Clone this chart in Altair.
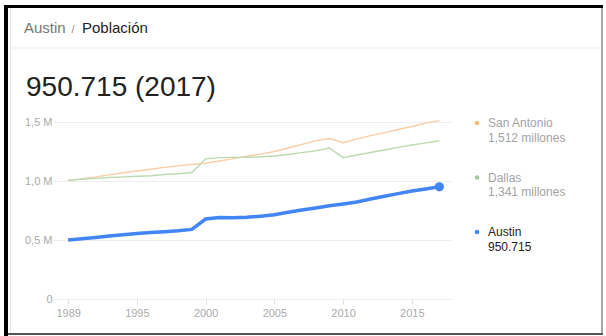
import altair as alt
import pandas as pd

# ---------------- data ----------------
years = list(range(1990, 2018))
austin = [0.500, 0.511, 0.522, 0.534, 0.545, 0.556, 0.563, 0.570, 0.578, 0.590,
          0.678, 0.690, 0.688, 0.692, 0.702, 0.714, 0.735, 0.755, 0.772, 0.790,
          0.805, 0.822, 0.847, 0.870, 0.893, 0.915, 0.933, 0.9507]
san_antonio = [1.002, 1.018, 1.035, 1.052, 1.070, 1.085, 1.100, 1.115, 1.128, 1.140,
               1.150, 1.170, 1.190, 1.210, 1.228, 1.250, 1.280, 1.310, 1.340, 1.360,
               1.325, 1.355, 1.385, 1.410, 1.436, 1.462, 1.490, 1.512]
dallas = [1.007, 1.015, 1.022, 1.030, 1.035, 1.040, 1.045, 1.055, 1.062, 1.072,
          1.188, 1.198, 1.200, 1.200, 1.205, 1.212, 1.225, 1.240, 1.255, 1.280,
          1.198, 1.220, 1.242, 1.263, 1.285, 1.305, 1.323, 1.341]

tick_values = [1990, 1995, 2000, 2005, 2010, 2015]
tick_labels = ["1989", "1995", "2000", "2005", "2010", "2015"]
y_ticks = [0, 0.5, 1.0, 1.5]

legend_names = ["San Antonio", "Dallas", "Austin"]
legend_values = ["1,512 millones", "1,341 millones", "950.715"]

breadcrumb_city = "Austin"
breadcrumb_topic = "Población"
headline = "950.715 (2017)"

# ---------------- styling ----------------
FONT = "Liberation Sans"
line_colors = {"San Antonio": "#f9cda6", "Dallas": "#bcdab1", "Austin": "#4285f4"}
dot_colors = {"San Antonio": "#f5b978", "Dallas": "#a9cba1", "Austin": "#4285f4"}
text_colors = {"San Antonio": "#a3a3a3", "Dallas": "#a3a3a3", "Austin": "#222222"}

W, H = 399, 177
OX, OY = 53, 122  # plot origin on the page


def px(x):
    return x - OX


def py(y):
    return y - OY


one = pd.DataFrame({"a": [0]})

df = pd.DataFrame({
    "year": years * 3,
    "value": san_antonio + dallas + austin,
    "city": ["San Antonio"] * len(years) + ["Dallas"] * len(years) + ["Austin"] * len(years),
})

label_expr = " : ".join(
    f"datum.value == {v} ? '{l}'" for v, l in zip(tick_values, tick_labels)
) + " : ''"

x_enc = alt.X("year:Q",
              scale=alt.Scale(domain=[1988.9, 2017.92], nice=False, zero=False),
              axis=alt.Axis(values=tick_values, labelExpr=label_expr, grid=False,
                            domain=False, ticks=True, tickSize=5, tickColor="#e0e0e0",
                            labelColor="#aaaaaa", labelFontSize=11, labelFont=FONT,
                            labelPadding=3, title=None))
y_enc = alt.Y("value:Q",
              scale=alt.Scale(domain=[0, 1.5], nice=False),
              axis=alt.Axis(values=y_ticks,
                            labelExpr="datum.value == 0 ? '0' : replace(format(datum.value, '.1f'), '.', ',') + ' M'",
                            grid=True, gridColor="#eeeeee", domain=False, ticks=False,
                            labelColor="#aaaaaa", labelFontSize=11, labelFont=FONT,
                            labelPadding=1, title=None))

base = alt.Chart(df)

thin = base.transform_filter("datum.city != 'Austin'").mark_line(strokeWidth=1.4).encode(
    x=x_enc, y=y_enc,
    color=alt.Color("city:N", scale=alt.Scale(domain=list(line_colors), range=list(line_colors.values())), legend=None),
    detail="city:N",
)
thick = base.transform_filter("datum.city == 'Austin'").mark_line(strokeWidth=3.5, color=line_colors["Austin"]).encode(
    x="year:Q", y="value:Q")
end_dot = base.transform_filter("datum.city == 'Austin' && datum.year == 2017").mark_circle(
    size=85, opacity=1, color=line_colors["Austin"]).encode(x="year:Q", y="value:Q")

layers = [thin, thick, end_dot]

# legend
for i, (name, val) in enumerate(zip(legend_names, legend_values)):
    yc = 123 + i * 54.5
    ld = pd.DataFrame({"name": [name], "val": [val]})
    layers.append(alt.Chart(ld).mark_circle(size=22, opacity=1, color=dot_colors[name]).encode(
        x=alt.value(px(477)), y=alt.value(py(yc))))
    layers.append(alt.Chart(ld).mark_text(align="left", baseline="middle", font=FONT, fontSize=12,
                                          color=text_colors[name]).encode(
        x=alt.value(px(488)), y=alt.value(py(yc)), text="name:N"))
    layers.append(alt.Chart(ld).mark_text(align="left", baseline="middle", font=FONT, fontSize=12,
                                          color=text_colors[name]).encode(
        x=alt.value(px(488)), y=alt.value(py(yc + 14.5)), text="val:N"))

# header texts
hd = pd.DataFrame({"city": [breadcrumb_city], "topic": [breadcrumb_topic], "head": [headline]})
layers.append(alt.Chart(hd).mark_text(align="left", baseline="alphabetic", font=FONT, fontSize=15,
                                      color="#777777").encode(
    x=alt.value(px(24)), y=alt.value(py(33)), text="city:N"))
layers.append(alt.Chart(hd).mark_text(align="center", baseline="alphabetic", font=FONT, fontSize=11,
                                      color="#888888").encode(
    x=alt.value(px(73)), y=alt.value(py(33)), text=alt.value("/")))
layers.append(alt.Chart(hd).mark_text(align="left", baseline="alphabetic", font=FONT, fontSize=15,
                                      color="#222222").encode(
    x=alt.value(px(82)), y=alt.value(py(33)), text="topic:N"))
layers.append(alt.Chart(hd).mark_text(align="left", baseline="alphabetic", font=FONT, fontSize=28,
                                      color="#222222").encode(
    x=alt.value(px(26)), y=alt.value(py(96)), text="head:N"))

# card / frame decorations
def rule(x1, y1, x2, y2, color, width):
    return alt.Chart(one).mark_rule(color=color, strokeWidth=width).encode(
        x=alt.value(px(x1)), x2=alt.value(px(x2)), y=alt.value(py(y1)), y2=alt.value(py(y2)))

layers += [
    rule(10, 48, 601, 48, "#ebebeb", 1),      # header separator
    rule(10.5, 8, 10.5, 333, "#e6e6e6", 1),   # card left border
    rule(602, 5, 602, 334, "#8a8a8a", 1.5),   # right border
    rule(4, 334, 603, 334, "#555555", 2),     # bottom border
    rule(4, 6.5, 603, 6.5, "#000000", 3),     # top black line
    rule(6, 5, 6, 336, "#000000", 4),         # left black bar
]

chart = alt.layer(*layers).properties(
    width=W, height=H,
    padding={"left": OX, "top": OY, "right": 606 - OX - W, "bottom": 336 - OY - H},
    autosize=alt.AutoSizeParams(type="none"),
    background="white",
).configure_view(stroke=None)

chart.save("out.html", embed_options={"renderer": "svg", "actions": False})
